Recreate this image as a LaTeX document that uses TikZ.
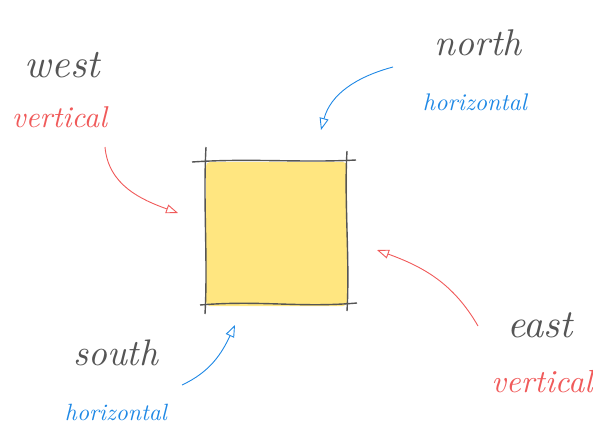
\documentclass[tikz,border=0pt]{standalone}
\usetikzlibrary{arrows.meta}
\definecolor{ink}{HTML}{555555}
\definecolor{redink}{HTML}{F05A5A}
\definecolor{blueink}{HTML}{1E88E5}
\definecolor{sqfill}{HTML}{FFE680}
\tikzset{
  lbl/.style={anchor=base, inner sep=0pt, font=\itshape},
  arr/.style={line width=0.9pt, -{Triangle[open, length=12pt, width=9pt]}},
  edge/.style={draw=ink, line width=1.4pt},
}
\newcommand{\fitw}[2]{\resizebox{#1pt}{!}{#2}}
\begin{document}
\begin{tikzpicture}[x=1pt,y=1pt]
\useasboundingbox (0,0) rectangle (593,-433);
% square
\node[fill=sqfill, rounded corners=4pt, minimum width=141pt, minimum height=144pt, inner sep=0pt] (sq) at (276.5,-234) {};
\draw[edge] (192,-162) .. controls (250,-158) and (300,-163) .. (356,-160);
\draw[edge] (206,-147) .. controls (203,-200) and (208,-260) .. (205,-314);
\draw[edge] (347,-151) .. controls (344,-200) and (350,-260) .. (347,-311);
\draw[edge] (200,-305) .. controls (260,-300) and (300,-308) .. (357,-303);
% labels
\node[lbl, text=ink] (west) at (62.5,-78) {\fitw{75}{west}};
\node[lbl, text=redink] (wv) at (59.5,-127) {\fitw{95}{vertical}};
\node[lbl, text=ink] (north) at (478.5,-56) {\fitw{87}{north}};
\node[lbl, text=blueink] (nh) at (475,-110) {\fitw{104}{horizontal}};
\node[lbl, text=ink] (south) at (115.5,-365) {\fitw{85}{south}};
\node[lbl, text=blueink] (sh) at (116,-420) {\fitw{102}{horizontal}};
\node[lbl, text=ink] (east) at (540,-337) {\fitw{66}{east}};
\node[lbl, text=redink] (ev) at (542,-392) {\fitw{101}{vertical}};
% arrow ends
\coordinate (ws) at (105,-147);
\coordinate (wt) at (178,-213);
\coordinate (ns) at (393,-67);
\coordinate (nt) at (321,-130);
\coordinate (es) at (478,-326);
\coordinate (et) at (377,-250);
\coordinate (ss) at (182,-385);
\coordinate (st) at (235,-325);
\draw[arr, redink] (ws) to[out=-85, in=160] (wt);
\draw[arr, blueink] (ns) to[out=195, in=75] (nt);
\draw[arr, redink] (es) to[out=120, in=-20] (et);
\draw[arr, blueink] (ss) to[out=25, in=-115] (st);
\end{tikzpicture}
\end{document}
